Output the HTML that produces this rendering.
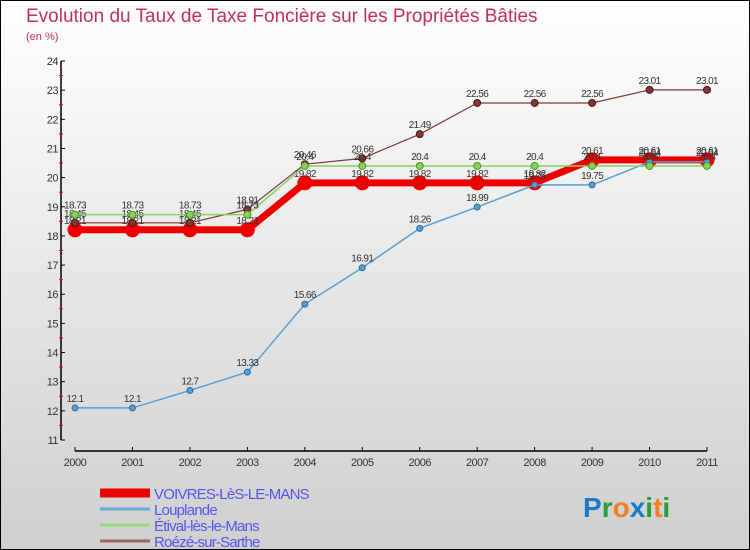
<!DOCTYPE html>
<html><head><meta charset="utf-8"><style>
body{margin:0}
svg{display:block;font-family:"Liberation Sans",sans-serif}
</style></head><body>
<svg id="c" width="750" height="550" viewBox="0 0 750 550">
<defs><linearGradient id="bg" x1="0" y1="0" x2="0" y2="1"><stop offset="0" stop-color="#ffffff"/><stop offset="1" stop-color="#cfcfcf"/></linearGradient></defs>
<rect x="0.5" y="0.5" width="749" height="549" fill="url(#bg)" stroke="#000"/>
<text x="26" y="22" font-size="19" fill="#c0305a">Evolution du Taux de Taxe Foncière sur les Propriétés Bâties</text>
<text x="26" y="40" font-size="11" fill="#c0305a">(en %)</text>
<g id="axes"></g><g id="series"></g><g id="legend"></g>
<text x="583" y="517" font-size="28" font-weight="bold"><tspan fill="#1a7ac8">P</tspan><tspan fill="#2a9a3a">r</tspan><tspan fill="#f08020">o</tspan><tspan fill="#1a7ac8">x</tspan><tspan fill="#2a9a3a">i</tspan><tspan fill="#f08020">t</tspan><tspan fill="#2a9a3a">i</tspan></text>
</svg>
<script>
const years=[2000,2001,2002,2003,2004,2005,2006,2007,2008,2009,2010,2011];
const yTicks=[11,12,13,14,15,16,17,18,19,20,21,22,23,24];
const voivres=[18.21,18.21,18.21,18.21,19.82,19.82,19.82,19.82,19.82,20.61,20.61,20.61];
const louplande=[12.1,12.1,12.7,13.33,15.66,16.91,18.26,18.99,19.75,19.75,20.54,20.54];
const etival=[18.73,18.73,18.73,18.73,20.4,20.4,20.4,20.4,20.4,20.4,20.4,20.4];
const roeze=[18.45,18.45,18.45,18.91,20.46,20.66,21.49,22.56,22.56,22.56,23.01,23.01];
const NS="http://www.w3.org/2000/svg";
const X=i=>75+i*(707-75)/11;
const Y=v=>440-(v-11)*(440-61)/13;
function el(t,a,p){const e=document.createElementNS(NS,t);for(const k in a)e.setAttribute(k,a[k]);p.appendChild(e);return e;}
const ax=document.getElementById('axes');
let yl=el('line',{x1:61,y1:61,x2:61,y2:440,stroke:'#000','stroke-width':1.5},ax);


let xl=el('line',{x1:75,y1:451,x2:707,y2:451,stroke:'#000','stroke-width':1.5},ax);


yTicks.forEach((v,i)=>{
 el('line',{x1:61,y1:Y(v),x2:65,y2:Y(v),stroke:'#000'},ax);
 if(i<yTicks.length-1)el('line',{x1:59,y1:Y(v+0.5),x2:63,y2:Y(v+0.5),stroke:'#e00'},ax);
 const t=el('text',{x:58,y:Y(v)+4,'font-size':11,'text-anchor':'end',fill:'#333','letter-spacing':'-0.5'},ax);
 t.textContent=v;
 
 
});
years.forEach((y,i)=>{
 el('line',{x1:X(i),y1:447,x2:X(i),y2:451,stroke:'#000'},ax);
 const t=el('text',{x:X(i),y:466,'font-size':11,'text-anchor':'middle',fill:'#333','letter-spacing':'-0.5'},ax);
 t.textContent=y;
 
 
});
const sg=document.getElementById('series');
function series(data,color,w,r,name,dotStroke){
 const g=el('g',{},sg);
 
 
 el('polyline',{points:data.map((v,i)=>X(i)+','+Y(v)).join(' '),fill:'none',stroke:color,'stroke-width':w},g);
 data.forEach((v,i)=>{
  const c=el('circle',{cx:X(i),cy:Y(v),r:r,fill:color,stroke:dotStroke,'stroke-width':1},g);
  
  
  const t=el('text',{x:X(i),y:Y(v)-6,'font-size':10,'text-anchor':'middle',fill:'#333','letter-spacing':'-0.6'},g);
  t.textContent=v;
  
  
 });
}
series(voivres,'#ee0000',7,7,'series-voivres','#ee0000');
series(louplande,'#5a9ed0',1.5,3,'series-louplande','#2a6a9a');
series(roeze,'#7a3a3a',1.2,3.5,'series-roeze','#5a1010');
series(etival,'#88d060',1.5,3.5,'series-etival','#4a9a20');
const lg=document.getElementById('legend');
const names=['VOIVRES-LèS-LE-MANS','Louplande','Étival-lès-le-Mans','Roézé-sur-Sarthe'];
const cols=['#ee0000','#6aa8d8','#98d878','#9a6a6a'];
const ws=[9,3,3,3];
names.forEach((n,i)=>{
 const yy=493+i*16;
 const r=el('rect',{x:100,y:yy-ws[i]/2,width:50,height:ws[i],fill:cols[i]},lg);
 
 
 const t=el('text',{x:154,y:yy+6,'font-size':15,fill:'#5555ee','letter-spacing':'-0.8'},lg);
 t.textContent=n;
 
 
});
</script>
</body></html>
